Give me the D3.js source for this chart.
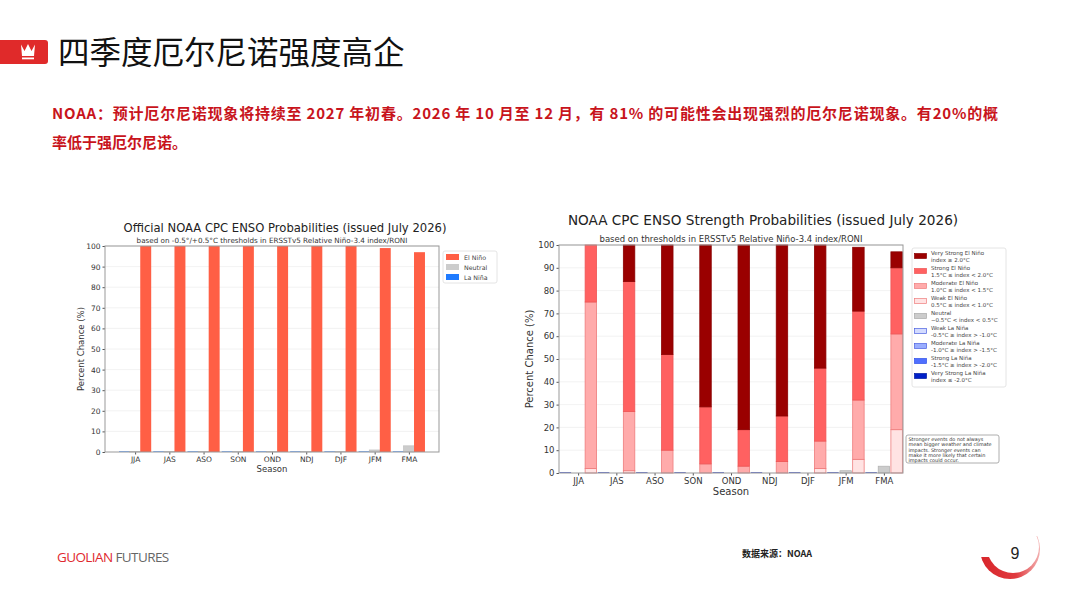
<!DOCTYPE html>
<html>
<head>
<meta charset="utf-8">
<script src="https://cdn.jsdelivr.net/npm/d3@7"></script>
<style>
  html, body { margin: 0; padding: 0; background: #fff; }
  svg { display: block; }
  .cjk { font-family: "Noto Sans CJK SC", "Noto Sans", sans-serif; }
  .mpl { font-family: "DejaVu Sans", sans-serif; }
</style>
</head>
<body>
<svg id="page" width="1080" height="608"></svg>
<script>
// ---- data ----
const seasons = ['JJA', 'JAS', 'ASO', 'SON', 'OND', 'NDJ', 'DJF', 'JFM', 'FMA'];

// official probabilities (left chart)
const laNina = [0, 0, 0, 0, 0, 0, 0, 0, 0];
const neutral = [0, 0, 0, 0, 0, 0, 0, 1, 3];
const elNino = [100, 100, 100, 100, 100, 100, 100, 99, 97];

// strength probabilities (right chart)
const weakNino = [2, 1, 0, 0, 0, 0, 2, 6, 19];
const moderateNino = [73, 26, 10, 4, 3, 5, 12, 26, 42];
const strongNino = [25, 57, 42, 25, 16, 20, 32, 39, 29];
const veryStrongNino = [0, 16, 48, 71, 81, 75, 54, 28, 7];

const yTicks = [0, 10, 20, 30, 40, 50, 60, 70, 80, 90, 100];

const leftLegend = ['El Niño', 'Neutral', 'La Niña'];
const strengthLegend = [
  ['Very Strong El Niño', 'index ≥ 2.0°C'],
  ['Strong El Niño', '1.5°C ≤ index < 2.0°C'],
  ['Moderate El Niño', '1.0°C ≤ index < 1.5°C'],
  ['Weak El Niño', '0.5°C ≤ index < 1.0°C'],
  ['Neutral', '−0.5°C < index < 0.5°C'],
  ['Weak La Niña', '-0.5°C ≥ index > -1.0°C'],
  ['Moderate La Niña', '-1.0°C ≥ index > -1.5°C'],
  ['Strong La Niña', '-1.5°C ≥ index > -2.0°C'],
  ['Very Strong La Niña', 'index ≤ -2.0°C']
];
const noteLines = [
  'Stronger events do not always',
  'mean bigger weather and climate',
  'impacts. Stronger events can',
  'make it more likely that certain',
  'impacts could occur.'
];

// colours
const officialColors = { elNino: '#ff5f45', neutral: '#cccccc', laNina: '#1f7bff' };
const strengthFill = ['#9a0000', '#ff6161', '#ffabab', '#ffe3e3', '#cccccc', '#d3dbff', '#9aaeff', '#4f6fff', '#0020c8'];
const strengthEdge = ['#8a0000', '#ee5555', '#ee7d7d', '#ee7d7d', '#aaaaaa', '#4a60e0', '#4a60e0', '#3050e8', '#001aa0'];

const svg = d3.select('#page');

// ---- page header ----
const badge = svg.append('g');
badge.append('rect')
  .attr('x', -6).attr('y', 40).attr('width', 54).attr('height', 24).attr('rx', 3)
  .attr('fill', '#e02a2a');
badge.append('path')
  .attr('d', 'M21,44.5 L24.5,51 L28,44 L31.5,51 L35,44.5 L34,56 L22,56 Z')
  .attr('fill', '#fff');
badge.append('rect')
  .attr('x', 22).attr('y', 57.5).attr('width', 12).attr('height', 1.8).attr('fill', '#fff');

svg.append('text')
  .attr('class', 'cjk')
  .attr('x', 58).attr('y', 64)
  .attr('font-size', 31.5)
  .attr('fill', '#111')
  .text('四季度厄尔尼诺强度高企');

const para = svg.append('g')
  .attr('class', 'cjk')
  .attr('fill', '#c8141c')
  .attr('font-weight', 'bold')
  .attr('font-size', 15);
para.append('text')
  .attr('x', 52).attr('y', 119)
  .attr('textLength', 946).attr('lengthAdjust', 'spacing')
  .text('NOAA：预计厄尔尼诺现象将持续至 2027 年初春。2026 年 10 月至 12 月，有 81% 的可能性会出现强烈的厄尔尼诺现象。有20%的概');
para.append('text')
  .attr('x', 52).attr('y', 148)
  .text('率低于强厄尔尼诺。');

// ---- shared axis drawing ----
function drawFrame(g, x, y, opts) {
  const [x0, x1] = x.range();
  const [yb, yt] = y.range();

  // faint gridlines
  g.append('g')
    .selectAll('line')
    .data(yTicks.slice(1))
    .join('line')
    .attr('x1', x0).attr('x2', x1)
    .attr('y1', d => y(d)).attr('y2', d => y(d))
    .attr('stroke', '#efefef')
    .attr('stroke-width', 0.8);

  const yAxis = g.append('g')
    .attr('class', 'mpl')
    .attr('transform', `translate(${x0},0)`)
    .call(d3.axisLeft(y).tickValues(yTicks).tickSize(2.5).tickPadding(2));
  yAxis.select('.domain').remove();
  yAxis.selectAll('line').attr('stroke', '#555');
  yAxis.selectAll('text').attr('font-size', opts.tickSize).attr('fill', '#333').attr('font-family', 'DejaVu Sans');

  const xAxis = g.append('g')
    .attr('class', 'mpl')
    .attr('transform', `translate(0,${yb})`)
    .call(d3.axisBottom(x).tickSize(2.5).tickPadding(2));
  xAxis.select('.domain').remove();
  xAxis.selectAll('line').attr('stroke', '#555');
  xAxis.selectAll('text').attr('font-size', opts.tickSize).attr('fill', '#333').attr('font-family', 'DejaVu Sans');

  g.append('text')
    .attr('class', 'mpl')
    .attr('x', (x0 + x1) / 2).attr('y', yb + opts.seasonDy)
    .attr('text-anchor', 'middle')
    .attr('font-size', opts.labelSize).attr('fill', '#333')
    .text('Season');

  g.append('text')
    .attr('class', 'mpl')
    .attr('transform', `translate(${x0 - opts.ylabelDx},${(yb + yt) / 2}) rotate(-90)`)
    .attr('text-anchor', 'middle')
    .attr('font-size', opts.labelSize).attr('fill', '#333')
    .text('Percent Chance (%)');

  // figure title sits over the whole figure, subtitle over the axes
  g.append('text')
    .attr('class', 'mpl')
    .attr('x', opts.titleX).attr('y', opts.titleY)
    .attr('text-anchor', 'middle')
    .attr('font-size', opts.titleSize).attr('fill', '#222')
    .text(opts.title);

  g.append('text')
    .attr('class', 'mpl')
    .attr('x', (x0 + x1) / 2).attr('y', opts.subY)
    .attr('text-anchor', 'middle')
    .attr('font-size', opts.subSize).attr('fill', '#333')
    .text(opts.subtitle);
}

function drawBorder(g, x, y) {
  const [x0, x1] = x.range();
  const [yb, yt] = y.range();
  g.append('rect')
    .attr('x', x0).attr('y', yt)
    .attr('width', x1 - x0).attr('height', yb - yt)
    .attr('fill', 'none')
    .attr('stroke', '#999')
    .attr('stroke-width', 1);
}

// ---- left chart: official probabilities ----
const xL = d3.scalePoint().domain(seasons).range([105, 439]).padding(0.88);
const yL = d3.scaleLinear().domain([0, 100]).range([452, 246]);
const gL = svg.append('g');

drawFrame(gL, xL, yL, {
  tickSize: 7.5, labelSize: 8.5, titleSize: 11.6, subSize: 7.2,
  seasonDy: 20, ylabelDx: 21, titleX: 285, titleY: 232, subY: 243,
  title: 'Official NOAA CPC ENSO Probabilities (issued July 2026)',
  subtitle: 'based on -0.5°/+0.5°C thresholds in ERSSTv5 Relative Niño-3.4 index/RONI'
});

const stepL = xL.step();
const bwL = stepL * 0.32;
const leftSeries = [
  { key: 'laNina', values: laNina, offset: -stepL * 0.31, color: officialColors.laNina },
  { key: 'neutral', values: neutral, offset: 0, color: officialColors.neutral },
  { key: 'elNino', values: elNino, offset: stepL * 0.31, color: officialColors.elNino }
];
leftSeries.forEach(s => {
  gL.append('g')
    .selectAll('rect')
    .data(seasons.map((season, i) => ({ season, v: s.values[i] })))
    .join('rect')
    .attr('x', d => xL(d.season) + s.offset - bwL / 2)
    .attr('width', bwL)
    .attr('y', d => yL(d.v) - (d.v === 0 ? 0.6 : 0))
    .attr('height', d => Math.max(yL(0) - yL(d.v), 0.6))
    .attr('fill', s.color)
    .attr('stroke', s.key === 'neutral' ? '#b5b5b5' : 'none')
    .attr('stroke-width', 0.5);
});
drawBorder(gL, xL, yL);

// left legend
const legL = svg.append('g').attr('class', 'mpl');
legL.append('rect')
  .attr('x', 443).attr('y', 251).attr('width', 54).attr('height', 32).attr('rx', 2)
  .attr('fill', '#fff').attr('stroke', '#ddd').attr('stroke-width', 0.8);
const legColors = [officialColors.elNino, officialColors.neutral, officialColors.laNina];
leftLegend.forEach((name, i) => {
  legL.append('rect')
    .attr('x', 446).attr('y', 254 + i * 10).attr('width', 13).attr('height', 6)
    .attr('fill', legColors[i]);
  legL.append('text')
    .attr('x', 464).attr('y', 259.5 + i * 10)
    .attr('font-size', 6.3).attr('fill', '#444')
    .text(name);
});

// ---- right chart: strength probabilities ----
const xR = d3.scalePoint().domain(seasons).range([559, 903]).padding(0.5);
const yR = d3.scaleLinear().domain([0, 100]).range([473, 245]);
const gR = svg.append('g');

drawFrame(gR, xR, yR, {
  tickSize: 8.5, labelSize: 10, titleSize: 13.6, subSize: 8.5,
  seasonDy: 22, ylabelDx: 26, titleX: 763, titleY: 225, subY: 241.5,
  title: 'NOAA CPC ENSO Strength Probabilities (issued July 2026)',
  subtitle: 'based on thresholds in ERSSTv5 Relative Niño-3.4 index/RONI'
});

const stepR = xR.step();
const bwR = stepR * 0.3;
const stackData = seasons.map((season, i) => ({
  season,
  weak: weakNino[i],
  moderate: moderateNino[i],
  strong: strongNino[i],
  veryStrong: veryStrongNino[i]
}));
const stackKeys = ['weak', 'moderate', 'strong', 'veryStrong'];
const keyIndex = { veryStrong: 0, strong: 1, moderate: 2, weak: 3 };
const stacked = d3.stack().keys(stackKeys)(stackData);

// La Niña side: all zero, drawn as flat bars on the baseline
gR.append('g')
  .selectAll('rect')
  .data(seasons)
  .join('rect')
  .attr('x', d => xR(d) - stepR / 3 - bwR / 2)
  .attr('width', bwR)
  .attr('y', yR(0) - 0.8)
  .attr('height', 0.8)
  .attr('fill', '#3b4fc8');

// neutral
gR.append('g')
  .selectAll('rect')
  .data(seasons.map((season, i) => ({ season, v: neutral[i] })))
  .join('rect')
  .attr('x', d => xR(d.season) - bwR / 2)
  .attr('width', bwR)
  .attr('y', d => yR(d.v))
  .attr('height', d => yR(0) - yR(d.v))
  .attr('fill', strengthFill[4])
  .attr('stroke', strengthEdge[4])
  .attr('stroke-width', 0.6);

// El Niño stacks
stacked.forEach(layer => {
  const ci = keyIndex[layer.key];
  gR.append('g')
    .selectAll('rect')
    .data(layer.filter(d => d[1] - d[0] > 0))
    .join('rect')
    .attr('x', d => xR(d.data.season) + stepR / 3 - bwR / 2)
    .attr('width', bwR)
    .attr('y', d => yR(d[1]))
    .attr('height', d => yR(d[0]) - yR(d[1]))
    .attr('fill', strengthFill[ci])
    .attr('stroke', strengthEdge[ci])
    .attr('stroke-width', 0.8);
});
drawBorder(gR, xR, yR);

// right legend
const legR = svg.append('g').attr('class', 'mpl');
legR.append('rect')
  .attr('x', 912).attr('y', 248).attr('width', 94).attr('height', 139).attr('rx', 2)
  .attr('fill', '#fff').attr('stroke', '#ddd').attr('stroke-width', 0.8);
strengthLegend.forEach((lines, i) => {
  const cy = 256 + i * 15;
  legR.append('rect')
    .attr('x', 914.5).attr('y', cy - 2.5).attr('width', 12).attr('height', 5)
    .attr('fill', strengthFill[i])
    .attr('stroke', strengthEdge[i])
    .attr('stroke-width', 0.7);
  legR.append('text')
    .attr('x', 931).attr('y', cy - 1.5)
    .attr('font-size', 5.5).attr('fill', '#444')
    .text(lines[0]);
  legR.append('text')
    .attr('x', 931).attr('y', cy + 5.5)
    .attr('font-size', 5.5).attr('fill', '#444')
    .text(lines[1]);
});

// note box
const note = svg.append('g').attr('class', 'mpl');
note.append('rect')
  .attr('x', 906).attr('y', 435).attr('width', 93).attr('height', 28).attr('rx', 2)
  .attr('fill', '#fff').attr('stroke', '#999').attr('stroke-width', 0.8);
noteLines.forEach((t, i) => {
  note.append('text')
    .attr('x', 908.5).attr('y', 441 + i * 5.3)
    .attr('font-size', 4.9).attr('fill', '#333')
    .text(t);
});

// ---- footer ----
const foot = svg.append('text')
  .attr('x', 57).attr('y', 562)
  .attr('font-family', '"Open Sans", sans-serif')
  .attr('font-size', 13.5)
  .attr('letter-spacing', -0.6);
foot.append('tspan').attr('fill', '#e0282e').text('GUOLIAN');
foot.append('tspan').attr('fill', '#666').attr('dx', 3).text('FUTURES');

svg.append('text')
  .attr('class', 'cjk')
  .attr('x', 742).attr('y', 557)
  .attr('font-size', 9).attr('font-weight', 'bold').attr('fill', '#222')
  .text('数据来源：NOAA');

// page number badge with crescent
const defs = svg.append('defs');
const grad = defs.append('linearGradient').attr('id', 'cres').attr('x1', '0').attr('x2', '1');
grad.append('stop').attr('offset', '0').attr('stop-color', '#d8262b');
grad.append('stop').attr('offset', '0.6').attr('stop-color', '#e03a3e');
grad.append('stop').attr('offset', '1').attr('stop-color', '#f3b0b0');
defs.append('clipPath').attr('id', 'cresClip')
  .append('path').attr('d', 'M975,557 L1012,557 L1012,536 L1050,536 L1050,590 L975,590 Z');
const badgeG = svg.append('g');
badgeG.append('circle')
  .attr('cx', 1010).attr('cy', 549).attr('r', 30)
  .attr('fill', 'url(#cres)')
  .attr('clip-path', 'url(#cresClip)');
badgeG.append('circle')
  .attr('cx', 1013).attr('cy', 547).attr('r', 26)
  .attr('fill', '#fff');
badgeG.append('text')
  .attr('x', 1015).attr('y', 559)
  .attr('text-anchor', 'middle')
  .attr('font-family', '"Liberation Sans", Arial, sans-serif')
  .attr('font-size', 16).attr('fill', '#222')
  .text('9');
</script>
</body>
</html>
